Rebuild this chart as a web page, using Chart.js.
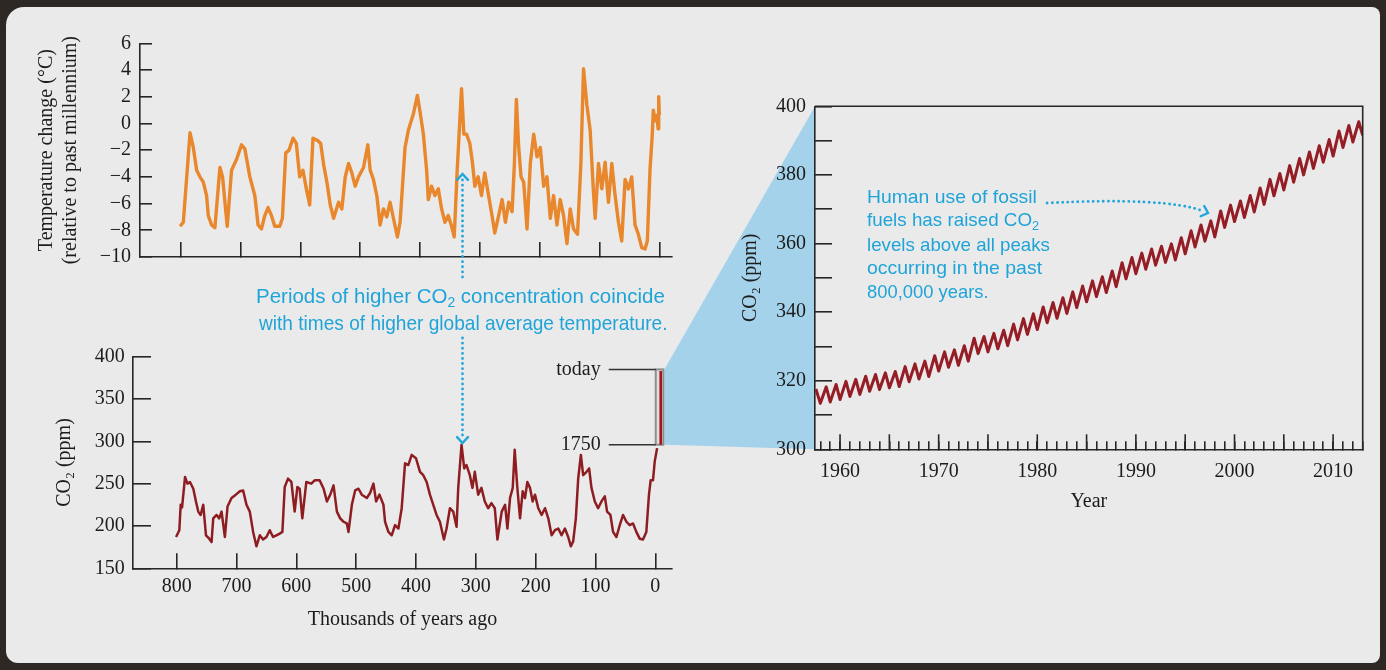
<!DOCTYPE html>
<html>
<head>
<meta charset="utf-8">
<script src="https://cdn.jsdelivr.net/npm/chart.js@4.4.1/dist/chart.umd.min.js"></script>
<style>
    html, body { margin: 0; padding: 0; }
    body { width: 1386px; height: 670px; background: #2e2825; position: relative; overflow: hidden; }
    #page { position: absolute; left: 6px; top: 7px; width: 1374px; height: 656px; background: #eaeaeb; border-radius: 18px 8px 8px 12px; }
    canvas { position: absolute; }
    .note { position: absolute; color: #1fa4d8; font-family: "Liberation Sans", Arial, sans-serif; white-space: nowrap; line-height: 24px; transform-origin: 0 50%; }
    .note sub { font-size: 0.68em; vertical-align: -0.3em; line-height: 0; }
    .big { font-size: 21px; }
    .small { font-size: 19px; }
</style>
</head>
<body>
<div id="page"></div>
<canvas id="under" width="1386" height="670" style="left:0;top:0"></canvas>
<canvas id="tempChart" width="690" height="290" style="left:0;top:0"></canvas>
<canvas id="co2Chart" width="690" height="340" style="left:0;top:300px"></canvas>
<canvas id="keelingChart" width="696" height="480" style="left:690px;top:60px"></canvas>
<canvas id="over" width="1386" height="670" style="left:0;top:0"></canvas>

<div class="note big" data-w="409" style="left:256px;top:284px">Periods of higher CO<sub>2</sub> concentration coincide</div>
<div class="note big" data-w="408" style="left:259px;top:311px">with times of higher global average temperature.</div>

<div class="note small" data-w="170" style="left:867px;top:185px">Human use of fossil</div>
<div class="note small" data-w="172" style="left:867px;top:208px">fuels has raised CO<sub>2</sub></div>
<div class="note small" data-w="183" style="left:867px;top:233px">levels above all peaks</div>
<div class="note small" data-w="175" style="left:867px;top:256px">occurring in the past</div>
<div class="note small" data-w="122" style="left:867px;top:280px">800,000 years.</div>

<script>
// Ice-core temperature (thousands of years ago, °C relative to past millennium)
var tempAge = [801, 795.6, 784.4, 778.9, 773.3, 767.8, 762.2, 756.7, 753.9, 748.3, 742.8, 734.4, 730, 722.2, 715,
    706.7, 698.3, 692.8, 684.4, 676.1, 670.6, 665, 659.4, 653.9, 648.3, 642.8, 634.4, 630, 624.4, 618.9, 612.2,
    606.7, 601.1, 595.6, 590, 584.4, 578.9, 570.6, 566, 561, 555.6, 550, 544.4, 536.1, 530.6, 525, 519.4, 513.9,
    508.3, 502.8, 494.4, 487.2, 483.3, 477.8, 472.2, 466.7, 461.1, 455.6, 450, 444.4, 437.8, 433.3, 425, 419.4,
    411.1, 404.4, 400, 394.4, 388.9, 386.1, 380.6, 375, 369.4, 363.9, 358.3, 352.8, 347.2, 342.8, 337.8, 330.6,
    326.7, 322.2, 316.7, 312.2, 308.3, 302.8, 297.2, 291.7, 286.1, 280, 275, 269, 262.8, 257.2, 251.7, 246.1,
    242.2, 238.9, 235, 231.1, 226.7, 221.1, 215.6, 210, 204.4, 198.9, 193.3, 187.8, 182.2, 176.7, 171.1, 165.6,
    160, 154.4, 148.9, 143.3, 136.7, 131.1, 126.7, 121.1, 115.6, 110, 107.2, 101.7, 96.1, 90.6, 85, 79.4, 73.9,
    68.3, 62.8, 57.2, 51.7, 46.1, 40.6, 35, 29.4, 23.9, 20, 15.6, 12, 10, 7, 4, 2, 1, 0];
var tempC = [-7.7, -7.4, -0.7, -1.8, -3.5, -4.0, -4.4, -5.4, -6.9, -7.6, -7.8, -3.3, -4.0, -7.7, -3.5,
    -2.7, -1.6, -1.9, -4.0, -5.4, -7.6, -7.9, -6.9, -6.3, -6.9, -7.7, -7.7, -7.1, -2.2, -2.0, -1.1,
    -1.5, -4.0, -3.5, -4.9, -6.1, -1.1, -1.3, -1.5, -3.1, -4.4, -6.1, -7.1, -5.9, -6.4, -4.0, -3.0, -3.7,
    -4.7, -4.0, -3.3, -1.6, -3.5, -4.2, -5.4, -7.6, -6.4, -7.0, -5.9, -7.1, -8.5, -7.4, -1.8, -0.5,
    0.7, 2.1, 0.9, -0.8, -3.5, -5.7, -4.7, -5.4, -4.9, -6.4, -7.4, -6.9, -7.7, -8.5, -3.5, 2.6,
    -0.8, -0.8, -1.5, -3.0, -4.7, -4.0, -5.4, -3.7, -5.2, -6.8, -8.2, -7.0, -5.7, -7.4, -5.9, -6.6,
    -3.0, 1.8, -1.8, -4.0, -4.4, -7.9, -3.0, -0.8, -2.5, -1.8, -4.7, -4.0, -7.1, -5.4, -7.6, -5.7,
    -6.9, -9.0, -6.4, -7.9, -8.3, -3.0, 4.1, 1.4, -0.5, -5.2, -7.1, -3.0, -4.9, -2.9, -5.9, -3.0, -5.4,
    -7.4, -8.8, -4.2, -4.9, -4.0, -7.6, -8.3, -9.3, -9.4, -8.8, -3.5, -1.0, 1.0, 0.2, 0.6, -0.4, 2.0, 0.6];

// Ice-core CO2 (thousands of years ago, ppm)
var co2Age = [801, 795.6, 793.3, 791, 786, 782, 777.8, 772.2, 767.8, 763.9, 760, 755.6, 751, 745.6, 741.7,
    738.9, 733.3, 728.9, 725, 719.4, 715, 708.3, 701.1, 694.4, 688.9, 683.3, 677.8, 672.2, 666.7, 661.1,
    655.6, 650, 644.4, 638.9, 633.3, 627.8, 623.3, 619.4, 613.9, 608.3, 602.8, 598.3, 594.4, 590, 583.3,
    575, 569.4, 561.1, 554.4, 548.9, 543.3, 537.8, 532.2, 526.7, 521.1, 515.6, 512.8, 507.2, 501.7, 496.1,
    490.6, 482.2, 476.7, 471.1, 466.7, 461.1, 454.4, 451.7, 446.1, 440.6, 435, 429.4, 423.9, 418.3, 412.8,
    407.2, 400, 393.3, 387.8, 382.2, 376.7, 371.1, 365.6, 360, 353.3, 348.9, 343.3, 337.8, 332.2, 329.4,
    323.9, 319.4, 315.6, 310, 305.6, 301.7, 296.1, 290.6, 285, 279.4, 273.9, 268.3, 263.9, 256.7, 251.1,
    247.2, 242.8, 238.3, 235, 230.6, 226.1, 221.7, 217.8, 213.9, 209.4, 205, 201.1, 195.6, 190, 184.4,
    178.9, 173.3, 167.8, 162.2, 156.7, 151.1, 145.6, 141.1, 137.2, 132.8, 128.9, 124.4, 120.6, 115, 110.6,
    106.7, 101.1, 95.6, 90, 84.4, 80.6, 75, 70.6, 65, 59.4, 53.9, 48.3, 42.8, 37.2, 31.7, 26.1, 20.6, 15,
    10.6, 7.8, 3.9, 1, -3];
var co2Ppm = [187, 195, 225, 222, 258, 250, 252, 244, 229, 217, 213, 225, 189, 185, 181,
    209, 213, 209, 217, 187, 223, 233, 237, 241, 242, 225, 217, 193, 176, 189,
    184, 187, 195, 187, 189, 191, 193, 246, 256, 252, 217, 246, 244, 209, 252,
    250, 254, 254, 244, 229, 237, 248, 217, 209, 205, 203, 193, 225, 242, 244,
    237, 233, 239, 250, 229, 237, 225, 205, 193, 189, 201, 197, 221, 274, 272,
    284, 280, 264, 260, 252, 237, 225, 213, 205, 184, 197, 221, 217, 199, 245,
    296, 268, 272, 260, 245, 264, 237, 245, 229, 221, 227, 221, 184, 217, 225,
    197, 233, 245, 290, 245, 209, 241, 233, 252, 245, 229, 237, 221, 213, 221,
    209, 189, 195, 197, 189, 197, 187, 176, 182, 209, 256, 284, 260, 264, 268,
    245, 229, 221, 229, 235, 217, 213, 193, 187, 201, 213, 205, 201, 203, 193, 185, 184, 193,
    237, 254, 254, 276, 292];
var ageTicks = [800, 700, 600, 500, 400, 300, 200, 100, 0];

// 1750 -> today rise, drawn inside the bracket
var recentAge = [-9, -9];
var recentPpm = [296, 383];
var bracketAge = [-0.7, -13.4];
var bracketPpm = [296, 385];
var bracketLabels = ['1750', 'today'];

// Mauna Loa record: seasonal lows (start of each year) and highs (mid-year)
var keelingStartYear = 1958;
var keelingLead = [1957.55, 317.6];
var keelingTrough = [313.4, 313.8, 314.5, 315.4, 316.0, 316.9, 317.4, 317.9, 318.3, 319.7,
    320.5, 321.2, 322.8, 323.9, 324.5, 325.7, 327.9, 328.4, 329.3, 330.2,
    331.9, 333.5, 334.9, 336.9, 338.2, 339.6, 341.3, 343.0, 344.5, 345.7,
    347.4, 349.7, 351.2, 352.5, 353.7, 354.5, 355.2, 357.0, 359.0, 360.7,
    361.9, 364.7, 366.4, 367.6, 369.2, 371.4, 373.9, 375.6, 377.9, 380.0,
    381.9, 383.7, 385.5, 388.0, 389.6, 391.5];
var keelingPeak = [318.2, 318.9, 319.8, 320.4, 321.3, 321.8, 322.3, 322.7, 324.1, 324.9,
    325.7, 327.3, 328.4, 329.0, 330.2, 332.4, 332.9, 333.8, 334.7, 336.5,
    338.1, 339.5, 341.5, 342.8, 344.2, 345.9, 347.6, 349.1, 350.3, 352.0,
    354.4, 355.9, 357.2, 358.4, 359.2, 359.9, 361.7, 363.7, 365.4, 366.6,
    369.5, 371.2, 372.4, 374.0, 376.2, 378.7, 380.4, 382.7, 384.8, 386.7,
    388.5, 390.3, 392.8, 394.4, 395.5];

Chart.defaults.font.family = '"Liberation Serif", "Times New Roman", serif';
Chart.defaults.font.size = 20;
Chart.defaults.color = '#1c1c1c';

var axisColor = '#262626';

function fixedWidth(w) { return function (scale) { scale.width = w; }; }
function fixedHeight(h) { return function (scale) { scale.height = h; }; }
function minusSign(v) { return v < 0 ? '\u2212' + Math.abs(v) : String(v); }
function toPoints(xs, ys) { return xs.map(function (x, i) { return { x: x, y: ys[i] }; }); }
function inwardGrid(len) {
    return { drawOnChartArea: false, tickLength: -len, color: axisColor, lineWidth: 1.6 };
}

var baseOptions = {
    responsive: false,
    animation: false,
    devicePixelRatio: 1,
    plugins: { legend: { display: false }, tooltip: { enabled: false } },
    elements: { point: { radius: 0 }, line: { tension: 0, borderJoinStyle: 'round' } }
};

// ---- temperature ----
var tempChart = new Chart(document.getElementById('tempChart'), {
    type: 'line',
    data: { datasets: [{ data: toPoints(tempAge, tempC), borderColor: '#e8872b', borderWidth: 3.4 }] },
    options: Object.assign({}, baseOptions, {
        layout: { padding: { top: 43.3, right: 18, bottom: 0, left: 0 } },
        scales: {
            x: {
                type: 'linear', reverse: true, min: -21.2, max: 868,
                afterFit: fixedHeight(27.3),
                afterBuildTicks: function (s) { s.ticks = ageTicks.map(function (v) { return { value: v }; }); },
                grid: inwardGrid(15),
                border: { color: axisColor, width: 1.6 },
                ticks: { display: false }
            },
            y: {
                min: -10, max: 6,
                afterFit: fixedWidth(140),
                grid: inwardGrid(12),
                border: { color: axisColor, width: 1.6 },
                ticks: { stepSize: 2, padding: 21, callback: minusSign },
                title: {
                    display: true,
                    text: ['Temperature change (\u00B0C)', '(relative to past millennium)'],
                    padding: { top: 35, bottom: 0 },
                    color: '#1c1c1c'
                }
            }
        }
    })
});

// ---- ice-core CO2 ----
var bracketPlugin = {
    id: 'bracket',
    beforeDatasetsDraw: function (chart) {
        var ctx = chart.ctx, x = chart.scales.x, y = chart.scales.y;
        var x1 = x.getPixelForValue(bracketAge[0]), x2 = x.getPixelForValue(bracketAge[1]);
        var yTop = y.getPixelForValue(bracketPpm[1]), yBot = y.getPixelForValue(bracketPpm[0]);
        ctx.save();
        ctx.fillStyle = '#dedede';
        ctx.strokeStyle = '#8f8f8f';
        ctx.lineWidth = 2;
        ctx.fillRect(x1, yTop, x2 - x1, yBot - yTop);
        ctx.strokeRect(x1, yTop, x2 - x1, yBot - yTop);
        ctx.restore();
    },
    afterDraw: function (chart) {
        var ctx = chart.ctx, x = chart.scales.x, y = chart.scales.y;
        var x1 = x.getPixelForValue(bracketAge[0]);
        ctx.save();
        ctx.strokeStyle = '#333';
        ctx.lineWidth = 1.5;
        ctx.fillStyle = '#1c1c1c';
        ctx.font = '20px "Liberation Serif", serif';
        ctx.textAlign = 'right';
        ctx.textBaseline = 'middle';
        bracketPpm.forEach(function (v, i) {
            var py = y.getPixelForValue(v);
            ctx.beginPath();
            ctx.moveTo(x1 - 47, py);
            ctx.lineTo(x1, py);
            ctx.stroke();
            ctx.fillText(bracketLabels[i], x1 - 55, py);
        });
        ctx.restore();
    }
};

var co2Chart = new Chart(document.getElementById('co2Chart'), {
    type: 'line',
    data: {
        datasets: [
            { data: toPoints(co2Age, co2Ppm), borderColor: '#8e1d22', borderWidth: 2.5 },
            { data: toPoints(recentAge, recentPpm), borderColor: '#a3161d', borderWidth: 2.6 }
        ]
    },
    options: Object.assign({}, baseOptions, {
        layout: { padding: { top: 56.7, right: 18, bottom: 0, left: 0 } },
        scales: {
            x: {
                type: 'linear', reverse: true, min: -27.9, max: 873,
                afterFit: fixedHeight(71.7),
                afterBuildTicks: function (s) { s.ticks = ageTicks.map(function (v) { return { value: v }; }); },
                grid: inwardGrid(15),
                border: { color: axisColor, width: 1.6 },
                ticks: { padding: 21.7, maxRotation: 0, callback: function (v) { return String(v); } },
                title: { display: true, text: 'Thousands of years ago', padding: { top: 0, bottom: 8 }, color: '#1c1c1c' }
            },
            y: {
                min: 150, max: 400,
                afterFit: fixedWidth(133),
                grid: inwardGrid(18),
                border: { color: axisColor, width: 1.6 },
                ticks: { stepSize: 50, padding: 26.3, callback: function (v) { return String(v); } },
                title: { display: true, text: 'CO\u2082 (ppm)', padding: { top: 53, bottom: 0 }, color: '#1c1c1c' }
            }
        }
    }),
    plugins: [bracketPlugin]
});

// ---- Mauna Loa CO2 ----
var keelingPoints = [{ x: keelingLead[0], y: keelingLead[1] }];
keelingTrough.forEach(function (t, i) {
    keelingPoints.push({ x: keelingStartYear + i, y: t });
    if (i < keelingPeak.length) {
        keelingPoints.push({ x: keelingStartYear + i + 0.6, y: keelingPeak[i] });
    }
});

var frameTicksPlugin = {
    id: 'frameTicks',
    afterDraw: function (chart) {
        var ctx = chart.ctx, area = chart.chartArea, x = chart.scales.x;
        ctx.save();
        ctx.strokeStyle = axisColor;
        ctx.lineWidth = 1.6;
        ctx.beginPath();
        ctx.moveTo(area.left, area.top);
        ctx.lineTo(area.right, area.top);
        ctx.lineTo(area.right, area.bottom);
        ctx.stroke();
        // longer marks every five years
        x.ticks.forEach(function (t) {
            if (t.value % 5 === 0) {
                var px = x.getPixelForValue(t.value);
                ctx.beginPath();
                ctx.moveTo(px, area.bottom);
                ctx.lineTo(px, area.bottom - 15);
                ctx.stroke();
            }
        });
        ctx.restore();
    }
};

var keelingChart = new Chart(document.getElementById('keelingChart'), {
    type: 'line',
    data: { datasets: [{ data: keelingPoints, borderColor: '#951d25', borderWidth: 3 }] },
    options: Object.assign({}, baseOptions, {
        layout: { padding: { top: 46.3, right: 23.3, bottom: 0, left: 0 } },
        scales: {
            x: {
                type: 'linear', min: 1957.46, max: 2013,
                afterFit: fixedHeight(90.7),
                grid: inwardGrid(8),
                border: { color: axisColor, width: 1.6 },
                ticks: {
                    stepSize: 1, includeBounds: false, autoSkip: false, maxRotation: 0, padding: 18.7,
                    callback: function (v) { return v % 10 === 0 ? String(v) : ''; }
                },
                title: { display: true, text: 'Year', padding: { top: 0, bottom: 26 }, color: '#1c1c1c' }
            },
            y: {
                min: 300, max: 400,
                afterFit: fixedWidth(125),
                grid: inwardGrid(17),
                border: { color: axisColor, width: 1.6 },
                ticks: { stepSize: 10, padding: 26, callback: function (v) { return v % 20 === 0 ? String(v) : ''; } },
                title: { display: true, text: 'CO\u2082 (ppm)', padding: { top: 49, bottom: 0 }, color: '#1c1c1c' }
            }
        }
    }),
    plugins: [frameTicksPlugin]
});

// ---- blue zoom wedge from the bracket to the modern record ----
(function () {
    var ctx = document.getElementById('under').getContext('2d');
    var cx = co2Chart.scales.x, cy = co2Chart.scales.y;
    var bx = cx.getPixelForValue(bracketAge[1]) + 1;
    var bTop = cy.getPixelForValue(bracketPpm[1]) + 300;
    var bBot = cy.getPixelForValue(bracketPpm[0]) + 300;
    var ka = keelingChart.chartArea;
    ctx.fillStyle = '#a5d2eb';
    ctx.beginPath();
    ctx.moveTo(bx, bTop);
    ctx.lineTo(690 + ka.left, 60 + ka.top);
    ctx.lineTo(690 + ka.left, 60 + ka.bottom);
    ctx.lineTo(bx, bBot);
    ctx.closePath();
    ctx.fill();
})();

// ---- dotted cyan arrows ----
(function () {
    var ctx = document.getElementById('over').getContext('2d');
    var cyan = '#22a6dc';
    ctx.strokeStyle = cyan;
    ctx.lineWidth = 2.8;
    ctx.lineCap = 'round';

    function dotted(fn) {
        ctx.save();
        ctx.setLineDash([0.1, 5]);
        ctx.beginPath();
        fn();
        ctx.stroke();
        ctx.restore();
    }
    function chevron(x, y, angle) {
        ctx.save();
        ctx.lineWidth = 2.4;
        ctx.setLineDash([]);
        ctx.beginPath();
        ctx.moveTo(x - 8 * Math.cos(angle - 0.75), y - 8 * Math.sin(angle - 0.75));
        ctx.lineTo(x, y);
        ctx.lineTo(x - 8 * Math.cos(angle + 0.75), y - 8 * Math.sin(angle + 0.75));
        ctx.stroke();
        ctx.restore();
    }

    var ax = 462.5;
    dotted(function () { ctx.moveTo(ax, 180); ctx.lineTo(ax, 282); });
    dotted(function () { ctx.moveTo(ax, 338); ctx.lineTo(ax, 438); });
    chevron(ax, 174, -Math.PI / 2);
    chevron(ax, 443, Math.PI / 2);

    dotted(function () { ctx.moveTo(1047, 203); ctx.quadraticCurveTo(1165, 197, 1203, 211); });
    chevron(1208, 213, Math.atan2(14, 41));
})();

// squeeze the annotation text to the printed widths
document.querySelectorAll('.note').forEach(function (el) {
    var target = parseFloat(el.getAttribute('data-w'));
    el.style.transform = 'scaleX(' + (target / el.offsetWidth).toFixed(3) + ')';
});
</script>
</body>
</html>
